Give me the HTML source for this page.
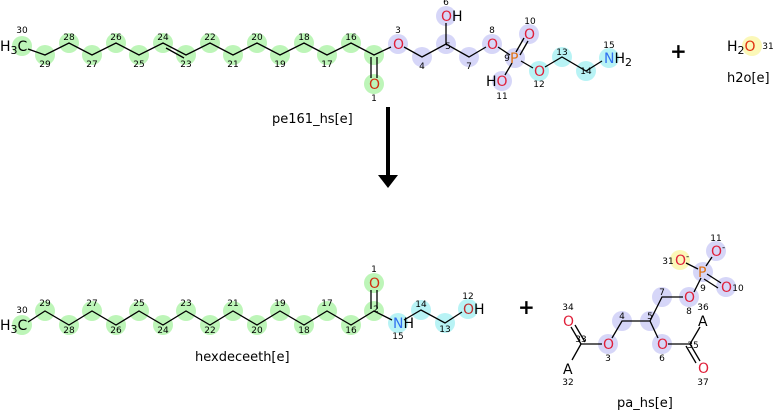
<!DOCTYPE html>
<html><head><style>body{margin:0;background:#fff}svg{display:block}text{font-family:"DejaVu Sans","Liberation Sans",sans-serif}</style></head><body>
<svg width="775" height="410" viewBox="0 0 775 410" xmlns="http://www.w3.org/2000/svg">
<g fill="#bdf5b8">
<circle cx="22" cy="46" r="10"/><circle cx="45" cy="55" r="10"/><circle cx="69" cy="43" r="10"/><circle cx="92" cy="55" r="10"/><circle cx="116" cy="43" r="10"/><circle cx="139" cy="55" r="10"/><circle cx="163" cy="43" r="10"/><circle cx="186" cy="55" r="10"/><circle cx="210" cy="43" r="10"/><circle cx="233" cy="55" r="10"/><circle cx="257" cy="43" r="10"/><circle cx="280" cy="55" r="10"/><circle cx="304" cy="43" r="10"/><circle cx="327" cy="55" r="10"/><circle cx="351" cy="43" r="10"/><circle cx="374" cy="55" r="10"/><circle cx="374" cy="84" r="10"/>
<circle cx="22" cy="325" r="10"/><circle cx="45" cy="311" r="10"/><circle cx="69" cy="325" r="10"/><circle cx="92" cy="311" r="10"/><circle cx="116" cy="325" r="10"/><circle cx="139" cy="311" r="10"/><circle cx="163" cy="325" r="10"/><circle cx="186" cy="311" r="10"/><circle cx="210" cy="325" r="10"/><circle cx="233" cy="311" r="10"/><circle cx="257" cy="325" r="10"/><circle cx="280" cy="311" r="10"/><circle cx="304" cy="325" r="10"/><circle cx="327" cy="311" r="10"/><circle cx="351" cy="325" r="10"/><circle cx="374" cy="311" r="10"/><circle cx="374" cy="283" r="10"/>
</g>
<g fill="#d6d6f8">
<circle cx="398" cy="44" r="10"/><circle cx="422" cy="57" r="10"/><circle cx="446" cy="44" r="10"/><circle cx="446" cy="16" r="10"/><circle cx="469" cy="57" r="10"/><circle cx="492" cy="44" r="10"/><circle cx="515" cy="58" r="10"/><circle cx="529" cy="34" r="10"/><circle cx="502" cy="81" r="10"/>
<circle cx="703" cy="272" r="10"/><circle cx="716" cy="251" r="10"/><circle cx="726" cy="287" r="10"/><circle cx="689" cy="297" r="10"/><circle cx="662" cy="297" r="10"/><circle cx="650" cy="321" r="10"/><circle cx="622" cy="321" r="10"/><circle cx="608" cy="344" r="10"/><circle cx="662" cy="344" r="10"/>
</g>
<g fill="#b8f3f5">
<circle cx="539" cy="71" r="10"/><circle cx="562" cy="57" r="10"/><circle cx="586" cy="71" r="10"/><circle cx="609" cy="58" r="10"/>
<circle cx="398" cy="323" r="10"/><circle cx="421" cy="310" r="10"/><circle cx="445" cy="323" r="10"/><circle cx="468" cy="309" r="10"/>
</g>
<g fill="#fbf8b8"><circle cx="752" cy="46" r="10"/><circle cx="680" cy="260" r="10"/></g>
<g stroke="#000" stroke-width="1.3" fill="none">
<polyline points="28,49 45,55 69,43 92,55 116,43 139,55 163,43 186,55 210,43 233,55 257,43 280,55 304,43 327,55 351,43 374,55 391,47"/>
<line x1="166" y1="48" x2="184" y2="58"/>
<line x1="371" y1="57" x2="371" y2="78"/><line x1="377" y1="57" x2="377" y2="78"/>
<polyline points="404,47 422,57 446,44 469,57 486,47"/>
<line x1="446" y1="44" x2="446" y2="23"/>
<line x1="498" y1="47" x2="510" y2="55"/>
<line x1="516" y1="52" x2="524" y2="38"/><line x1="520" y1="55" x2="528" y2="41"/>
<line x1="512" y1="63" x2="505" y2="75"/>
<line x1="521" y1="61" x2="533" y2="68"/>
<polyline points="545,67 562,57 586,71 602,61"/>
<polyline points="28,322 45,311 69,325 92,311 116,325 139,311 163,325 186,311 210,325 233,311 257,325 280,311 304,325 327,311 351,325 374,311 392,320"/>
<line x1="371" y1="309" x2="371" y2="290"/><line x1="377" y1="309" x2="377" y2="290"/>
<polyline points="404,320 421,310 445,323 462,312"/>
<line x1="686" y1="263" x2="698" y2="269"/>
<line x1="706" y1="266" x2="712" y2="257"/>
<line x1="707" y1="274" x2="721" y2="283"/><line x1="704" y1="279" x2="718" y2="288"/>
<line x1="701" y1="278" x2="694" y2="292"/>
<polyline points="683,297 662,297 650,321 622,321 612,338"/>
<line x1="650" y1="321" x2="658" y2="338"/>
<line x1="602" y1="344" x2="581" y2="344"/><line x1="581" y1="344" x2="571" y2="327"/><line x1="585" y1="342" x2="575" y2="325"/><line x1="581" y1="344" x2="572" y2="360"/>
<line x1="668" y1="344" x2="690" y2="344"/><line x1="690" y1="344" x2="700" y2="327"/><line x1="690" y1="344" x2="700" y2="361"/><line x1="686" y1="346" x2="696" y2="363"/>
</g>
<line x1="388" y1="107" x2="388" y2="176" stroke="#000" stroke-width="4"/>
<polygon points="378,175 398,175 388,188" fill="#000"/>
<g font-size="14">
<text x="0" y="51">H<tspan font-size="11" dy="3">3</tspan><tspan dy="-3">C</tspan></text>
<text x="0" y="330">H<tspan font-size="11" dy="3">3</tspan><tspan dy="-3">C</tspan></text>
<text x="369" y="89" fill="#d03010">O</text>
<text x="393" y="49" fill="#e0203a">O</text>
<text x="441" y="21" fill="#e0203a">O<tspan fill="#000">H</tspan></text>
<text x="487" y="49" fill="#e0203a">O</text>
<text x="510" y="63" fill="#e07010">P</text>
<text x="524" y="39" fill="#e0203a">O</text>
<text x="486" y="86">H<tspan fill="#e0203a">O</tspan></text>
<text x="534" y="76" fill="#e0203a">O</text>
<text x="604" y="63" fill="#3070f0">N<tspan fill="#000">H<tspan font-size="11" dy="3">2</tspan></tspan></text>
<text x="727" y="51">H<tspan font-size="11" dy="3">2</tspan><tspan dy="-3" fill="#e03010">O</tspan></text>
<text x="369" y="288" fill="#d03010">O</text>
<text x="393" y="328" fill="#3070f0">N<tspan fill="#000">H</tspan></text>
<text x="463" y="314" fill="#c03030">O<tspan fill="#000">H</tspan></text>
<text x="675" y="265" fill="#e0203a">O<tspan fill="#000" font-size="9" dy="-6">-</tspan></text>
<text x="698" y="277" fill="#e07010">P</text>
<text x="711" y="256" fill="#e0203a">O<tspan fill="#000" font-size="9" dy="-6">-</tspan></text>
<text x="721" y="292" fill="#e0203a">O</text>
<text x="684" y="302" fill="#e0203a">O</text>
<text x="603" y="349" fill="#e0203a">O</text>
<text x="657" y="349" fill="#e0203a">O</text>
<text x="563" y="326" fill="#e0203a">O</text>
<text x="563" y="374">A</text>
<text x="698" y="326">A</text>
<text x="698" y="373" fill="#e0203a">O</text>
</g>
<g font-size="20" font-weight="bold"><text x="670" y="58">+</text><text x="518" y="314">+</text></g>
<g font-size="13"><text x="272" y="123">pe161_hs[e]</text><text x="727" y="82">h2o[e]</text><text x="195" y="361">hexdeceeth[e]</text><text x="617" y="407">pa_hs[e]</text></g>
<g font-size="9" text-anchor="middle">
<text x="22" y="33">30</text><text x="45" y="67">29</text><text x="69" y="40">28</text><text x="92" y="67">27</text><text x="116" y="40">26</text><text x="139" y="67">25</text><text x="163" y="40">24</text><text x="186" y="67">23</text><text x="210" y="40">22</text><text x="233" y="67">21</text><text x="257" y="40">20</text><text x="280" y="67">19</text><text x="304" y="40">18</text><text x="327" y="67">17</text><text x="351" y="40">16</text><text x="374" y="101">1</text>
<text x="398" y="33">3</text><text x="422" y="69">4</text><text x="448" y="49">5</text><text x="446" y="5">6</text><text x="469" y="69">7</text><text x="492" y="33">8</text><text x="507" y="61">9</text><text x="530" y="24">10</text><text x="502" y="99">11</text><text x="539" y="87">12</text><text x="562" y="55">13</text><text x="586" y="74">14</text><text x="609" y="48">15</text><text x="768" y="49">31</text>
<text x="22" y="313">30</text><text x="45" y="306">29</text><text x="69" y="333">28</text><text x="92" y="306">27</text><text x="116" y="333">26</text><text x="139" y="306">25</text><text x="163" y="333">24</text><text x="186" y="306">23</text><text x="210" y="333">22</text><text x="233" y="306">21</text><text x="257" y="333">20</text><text x="280" y="306">19</text><text x="304" y="333">18</text><text x="327" y="306">17</text><text x="351" y="333">16</text><text x="374" y="272">1</text><text x="376" y="312">2</text><text x="398" y="339">15</text><text x="421" y="307">14</text><text x="445" y="332">13</text><text x="468" y="299">12</text>
<text x="716" y="241">11</text><text x="738" y="291">10</text><text x="703" y="291">9</text><text x="689" y="314">8</text><text x="703" y="310">36</text><text x="662" y="295">7</text><text x="650" y="319">5</text><text x="622" y="319">4</text><text x="608" y="361">3</text><text x="662" y="361">6</text><text x="668" y="264">31</text><text x="568" y="310">34</text><text x="581" y="342">33</text><text x="568" y="385">32</text><text x="693" y="348">35</text><text x="703" y="385">37</text>
</g>
</svg>
</body></html>
